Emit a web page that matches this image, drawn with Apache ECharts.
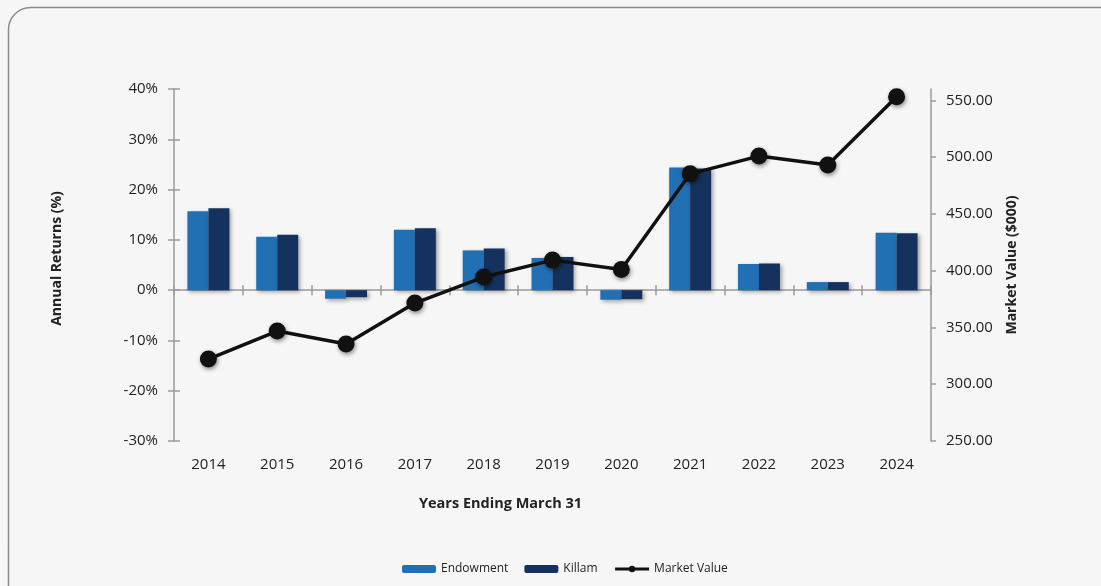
<!DOCTYPE html>
<html>
<head>
<meta charset="utf-8">
<script src="https://cdn.jsdelivr.net/npm/echarts@6/dist/echarts.min.js"></script>
<style>
html,body{margin:0;padding:0;background:#f6f6f6;}
#chart{width:1101px;height:586px;}
</style>
</head>
<body>
<div id="chart"></div>
<script>
const years = ['2014','2015','2016','2017','2018','2019','2020','2021','2022','2023','2024'];
const endowment = [15.7, 10.6, -1.7, 12.0, 7.9, 6.4, -1.9, 24.4, 5.2, 1.6, 11.4];
const killam = [16.3, 11.0, -1.4, 12.3, 8.3, 6.6, -1.8, 24.2, 5.3, 1.6, 11.3];
const marketValue = [322.2, 346.8, 335.4, 371.5, 394.4, 409.3, 401.1, 485.3, 500.9, 493.0, 553.1];
const rightTicks = [250, 300, 350, 400, 450, 500, 550];

const FONT = '"Open Sans", "Noto Sans", sans-serif';
const AX = '#9a9a9a';
const chart = echarts.init(document.getElementById('chart'));
const barShadow = {shadowColor:'rgba(0,0,0,0.35)', shadowBlur:4, shadowOffsetX:2, shadowOffsetY:2};

chart.setOption({
  backgroundColor:'#f6f6f6',
  textStyle:{fontFamily:FONT},
  animation:false,
  graphic:[{type:'rect', shape:{x:8.5,y:7.5,width:1130,height:620,r:22}, style:{fill:'none', stroke:'#8c8c8c', lineWidth:1.5}, z:-1}],
  grid:{left:174, right:170, top:89, bottom:145, containLabel:false, outerBoundsMode:'none'},
  legend:{
    left:402, top:563, padding:0, itemWidth:34, itemHeight:8, itemGap:16,
    textStyle:{fontSize:12, color:'#222', fontFamily:FONT},
    data:['Endowment','Killam',{name:'Market Value', itemStyle:{borderWidth:0}, lineStyle:{width:3}}]
  },
  xAxis:[{
    type:'category', data:years,
    axisLine:{onZero:true, lineStyle:{color:AX, width:1.5}},
    axisTick:{show:true, length:5, lineStyle:{color:AX, width:1.5}},
    axisLabel:{margin:16, fontSize:15, color:'#222', fontFamily:FONT},
    name:'Years Ending March 31', nameLocation:'middle', nameGap:55,
    nameTextStyle:{fontSize:14.5, fontWeight:'bold', color:'#222', fontFamily:FONT, padding:[0,104,0,0]}
  },{
    type:'category', data:years, position:'bottom',
    axisLine:{onZero:true, show:false},
    axisTick:{show:true, inside:true, length:5, lineStyle:{color:AX, width:1.5}},
    axisLabel:{show:false}
  }],
  yAxis:[{
    type:'value', min:-30, max:40, interval:10, position:'left',
    axisLine:{show:true, lineStyle:{color:AX, width:1.5}},
    axisTick:{show:true, length:6, lineStyle:{color:AX, width:1.5}},
    splitLine:{show:false},
    axisLabel:{formatter:'{value}%', margin:16, fontSize:15, color:'#222', fontFamily:FONT},
    name:'Annual Returns (%)', nameLocation:'middle', nameGap:110, nameRotate:90,
    nameTextStyle:{fontSize:14, fontWeight:'bold', color:'#222', fontFamily:FONT, padding:[0,0,0,13]}
  },{
    type:'value', min:250, max:560, position:'right',
    axisLine:{show:true, lineStyle:{color:AX, width:1.5}},
    axisTick:{show:true, length:5, customValues:rightTicks, lineStyle:{color:AX, width:1.5}},
    splitLine:{show:false},
    axisLabel:{customValues:rightTicks, formatter:v=>v.toFixed(2), margin:15, fontSize:15, color:'#222', fontFamily:FONT},
    name:'Market Value ($000)', nameLocation:'middle', nameGap:74, nameRotate:90,
    nameTextStyle:{fontSize:14, fontWeight:'bold', color:'#222', fontFamily:FONT}
  },{
    type:'value', min:-30, max:40, interval:10, position:'left',
    axisLine:{show:false},
    axisTick:{show:true, inside:true, length:6, lineStyle:{color:AX, width:1.5}},
    splitLine:{show:false}, axisLabel:{show:false}
  }],
  series:[{
    name:'Endowment', type:'bar', data:endowment, yAxisIndex:0,
    barGap:'0%', barCategoryGap:'39%',
    itemStyle:Object.assign({color:'#2170b4'}, barShadow)
  },{
    name:'Killam', type:'bar', data:killam, yAxisIndex:0,
    itemStyle:Object.assign({color:'#15325f'}, barShadow)
  },{
    name:'Market Value', type:'line', data:marketValue, yAxisIndex:1,
    symbol:'circle', symbolSize:17, z:5,
    lineStyle:{color:'#111', width:3.5},
    itemStyle:{color:'#111', shadowColor:'rgba(0,0,0,0.45)', shadowBlur:4, shadowOffsetX:1, shadowOffsetY:2}
  }]
});
</script>
</body>
</html>
